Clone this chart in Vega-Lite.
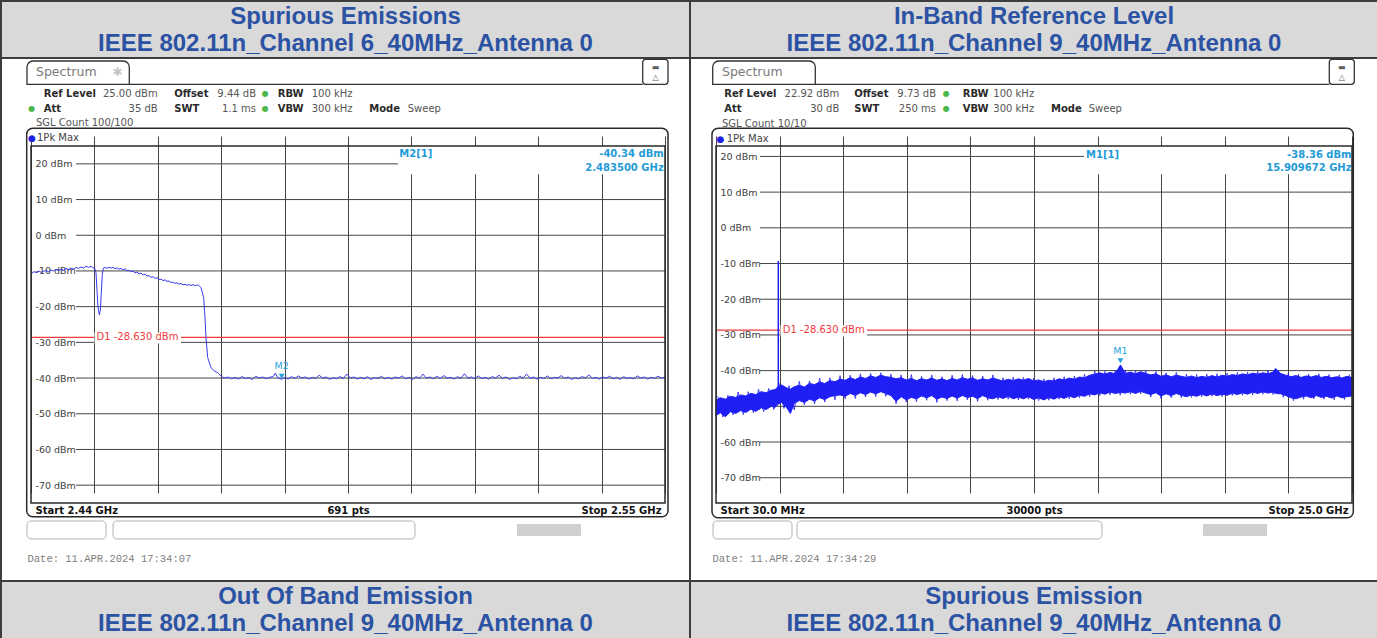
{
"$schema": "https://vega.github.io/schema/vega-lite/v6.json",
"background": "white",
"padding": 0,
"columns": 2,
"spacing": 0,
"bounds": "flush",
"config": {"view": {"stroke": null}, "text": {"font": "DejaVu Sans", "baseline": "alphabetic", "align": "left"}, "axis": {"labelFont": "DejaVu Sans"}},
"concat": [
{"width": 689, "height": 57, "view": {"fill": "#d9d9d9", "stroke": "#3d3d3d", "strokeWidth": 2},
 "data": {"values": [{"t": "Spurious Emissions\nIEEE 802.11n_Channel 6_40MHz_Antenna 0"}]},
 "mark": {"type": "text", "lineBreak": "\n", "font": "Liberation Sans", "fontWeight": "bold", "fontSize": 24, "lineHeight": 27, "dy": -12.5, "color": "#2b52a3", "align": "center", "baseline": "middle"},
 "encoding": {"text": {"field": "t", "type": "nominal"}}},
{"width": 688, "height": 57, "view": {"fill": "#d9d9d9", "stroke": "#3d3d3d", "strokeWidth": 2},
 "data": {"values": [{"t": "In-Band Reference Level\nIEEE 802.11n_Channel 9_40MHz_Antenna 0"}]},
 "mark": {"type": "text", "lineBreak": "\n", "font": "Liberation Sans", "fontWeight": "bold", "fontSize": 24, "lineHeight": 27, "dy": -12.5, "color": "#2b52a3", "align": "center", "baseline": "middle"},
 "encoding": {"text": {"field": "t", "type": "nominal"}}},
{"width": 689, "height": 523, "view": {"fill": "white", "stroke": "#3d3d3d", "strokeWidth": 2},
 "layer": [
  {"data": {"values": [{"lvl": 20}, {"lvl": 10}, {"lvl": 0}, {"lvl": -10}, {"lvl": -20}, {"lvl": -30}, {"lvl": -40}, {"lvl": -50}, {"lvl": -60}, {"lvl": -70}]},
   "mark": {"type": "rule", "color": "#444444", "strokeWidth": 1},
   "encoding": {
    "y": {"field": "lvl", "type": "quantitative", "scale": {"domain": [-75, 25], "range": [445, 88], "nice": false, "zero": false},
          "axis": {"orient": "left", "offset": -30, "values": [20, 10, 0, -10, -20, -30, -40, -50, -60, -70], "labelExpr": "datum.value + ' dBm'", "labelAlign": "left", "labelBaseline": "middle", "labelPadding": -4, "ticks": false, "tickSize": 0, "domain": false, "grid": false, "title": null, "labelFontSize": 9.5, "labelColor": "#404040", "labelOverlap": false}},
    "x": {"datum": 2.447808, "type": "quantitative", "scale": {"domain": [2.44, 2.55], "range": [30, 664], "nice": false, "zero": false},
          "axis": {"orient": "bottom", "offset": -78, "values": [2.44, 2.451, 2.462, 2.473, 2.484, 2.495, 2.506, 2.517, 2.528, 2.539, 2.55], "grid": true, "gridColor": "#444444", "gridWidth": 1, "gridOpacity": 1, "ticks": false, "tickSize": 0, "domain": false,
                   "labelExpr": "abs(datum.value-2.44)<1e-6 ? 'Start 2.44 GHz' : abs(datum.value-2.495)<1e-6 ? '691 pts' : abs(datum.value-2.55)<1e-6 ? 'Stop 2.55 GHz' : ''",
                   "labelFlush": true, "labelFlushOffset": -4, "labelOverlap": false, "labelFontWeight": "bold", "labelFontSize": 10, "labelColor": "#111111", "labelPadding": 2, "labelBaseline": "top",
                   "title": "Date: 11.APR.2024  17:34:07", "titleFont": "Liberation Mono", "titleFontWeight": "normal", "titleFontSize": 10.5, "titleColor": "#808080", "titleAnchor": "start", "titleAlign": "left", "titleBaseline": "middle", "titleX": 26, "titleY": 55}},
    "x2": {"datum": 2.55}}},
  {"data": {"values": [{}]}, "mark": {"type": "rect", "color": "white"},
   "encoding": {"x": {"datum": 2.503675}, "x2": {"datum": 2.55}, "y": {"datum": 25}, "y2": {"datum": 17.07}}},
  {"data": {"values": [{"d1": -28.63}]}, "mark": {"type": "rule", "color": "#f03c3c", "strokeWidth": 1.2},
   "encoding": {"y": {"field": "d1", "type": "quantitative"}, "x": {"datum": 2.44}, "x2": {"datum": 2.55}}},
  {"data": {"values": [{}]}, "mark": {"type": "rect", "color": "white"},
   "encoding": {"x": {"datum": 2.451017}, "x2": {"datum": 2.466025}, "y": {"datum": -27.24}, "y2": {"datum": -30.32}}},
  {"data": {"values": [{}]}, "mark": {"type": "text", "text": "D1  -28.630 dBm", "baseline": "middle", "fontSize": 10, "color": "#f03c3c"},
   "encoding": {"x": {"datum": 2.451364}, "y": {"datum": -28.63}}},
  {"data": {"values": [
    {"f": 2.44000, "v": -10.8}, {"f": 2.44052, "v": -10.2}, {"f": 2.44104, "v": -10.5}, {"f": 2.44139, "v": -10.0}, {"f": 2.44174, "v": -10.4}, {"f": 2.44217, "v": -10.1}, {"f": 2.44260, "v": -9.9}, {"f": 2.44304, "v": -10.2}, {"f": 2.44347, "v": -9.7}, {"f": 2.44391, "v": -10.0},
    {"f": 2.44434, "v": -9.6}, {"f": 2.44478, "v": -9.9}, {"f": 2.44521, "v": -9.5}, {"f": 2.44564, "v": -9.8}, {"f": 2.44607, "v": -9.3}, {"f": 2.44651, "v": -9.6}, {"f": 2.44694, "v": -9.2}, {"f": 2.44738, "v": -9.5}, {"f": 2.44781, "v": -9.0}, {"f": 2.44824, "v": -9.3},
    {"f": 2.44868, "v": -8.9}, {"f": 2.44911, "v": -9.2}, {"f": 2.44954, "v": -8.7}, {"f": 2.44998, "v": -9.0}, {"f": 2.45041, "v": -8.7}, {"f": 2.45076, "v": -9.1}, {"f": 2.45110, "v": -9.4}, {"f": 2.45128, "v": -10.5}, {"f": 2.45145, "v": -15.5}, {"f": 2.45162, "v": -20.0},
    {"f": 2.45185, "v": -22.3}, {"f": 2.45203, "v": -21.0}, {"f": 2.45220, "v": -16.0}, {"f": 2.45237, "v": -11.0}, {"f": 2.45255, "v": -9.2}, {"f": 2.45284, "v": -9.0}, {"f": 2.45319, "v": -9.3}, {"f": 2.45354, "v": -8.9}, {"f": 2.45388, "v": -9.2}, {"f": 2.45423, "v": -9.0},
    {"f": 2.45458, "v": -9.4}, {"f": 2.45492, "v": -9.1}, {"f": 2.45527, "v": -9.5}, {"f": 2.45562, "v": -9.3}, {"f": 2.45597, "v": -9.7}, {"f": 2.45631, "v": -9.4}, {"f": 2.45666, "v": -9.9}, {"f": 2.45700, "v": -9.8}, {"f": 2.45735, "v": -10.2}, {"f": 2.45770, "v": -10.0},
    {"f": 2.45804, "v": -10.5}, {"f": 2.45839, "v": -10.3}, {"f": 2.45874, "v": -10.8}, {"f": 2.45909, "v": -10.6}, {"f": 2.45944, "v": -11.1}, {"f": 2.45978, "v": -10.9}, {"f": 2.46013, "v": -11.4}, {"f": 2.46048, "v": -11.3}, {"f": 2.46082, "v": -11.8}, {"f": 2.46117, "v": -11.6},
    {"f": 2.46152, "v": -12.1}, {"f": 2.46186, "v": -11.9}, {"f": 2.46221, "v": -12.4}, {"f": 2.46256, "v": -12.3}, {"f": 2.46290, "v": -12.7}, {"f": 2.46325, "v": -12.5}, {"f": 2.46360, "v": -12.9}, {"f": 2.46394, "v": -12.8}, {"f": 2.46429, "v": -13.3}, {"f": 2.46464, "v": -13.1},
    {"f": 2.46498, "v": -13.5}, {"f": 2.46533, "v": -13.3}, {"f": 2.46568, "v": -13.7}, {"f": 2.46603, "v": -13.5}, {"f": 2.46637, "v": -13.9}, {"f": 2.46672, "v": -13.7}, {"f": 2.46707, "v": -14.0}, {"f": 2.46741, "v": -13.8}, {"f": 2.46776, "v": -14.1}, {"f": 2.46811, "v": -13.8},
    {"f": 2.46846, "v": -14.2}, {"f": 2.46880, "v": -13.9}, {"f": 2.46915, "v": -14.1}, {"f": 2.46950, "v": -14.7}, {"f": 2.46996, "v": -17.5}, {"f": 2.47019, "v": -23.1}, {"f": 2.47036, "v": -28.7}, {"f": 2.47066, "v": -34.3}, {"f": 2.47123, "v": -37.1}, {"f": 2.47180, "v": -38.0},
    {"f": 2.47239, "v": -38.5}, {"f": 2.47297, "v": -39.4}, {"f": 2.47330, "v": -39.8},
    {"f": 2.4736, "v": -40.0}, {"f": 2.4742, "v": -39.7}, {"f": 2.4748, "v": -40.2}, {"f": 2.4754, "v": -39.8}, {"f": 2.4760, "v": -40.3}, {"f": 2.4766, "v": -39.6}, {"f": 2.4772, "v": -40.1}, {"f": 2.4778, "v": -39.9}, {"f": 2.4784, "v": -40.4}, {"f": 2.4790, "v": -39.5},
    {"f": 2.4796, "v": -40.0}, {"f": 2.4802, "v": -39.7}, {"f": 2.4808, "v": -40.2}, {"f": 2.4814, "v": -39.8}, {"f": 2.4820, "v": -39.6}, {"f": 2.4824, "v": -38.6}, {"f": 2.4828, "v": -39.9}, {"f": 2.4835, "v": -40.34}, {"f": 2.4840, "v": -39.8}, {"f": 2.4846, "v": -40.3},
    {"f": 2.4852, "v": -39.6}, {"f": 2.4858, "v": -40.1}, {"f": 2.4864, "v": -39.4}, {"f": 2.4870, "v": -40.0}, {"f": 2.4876, "v": -39.7}, {"f": 2.4882, "v": -40.3}, {"f": 2.4888, "v": -39.8}, {"f": 2.4894, "v": -40.1}, {"f": 2.4900, "v": -39.2}, {"f": 2.4906, "v": -40.0},
    {"f": 2.4912, "v": -39.7}, {"f": 2.4918, "v": -40.4}, {"f": 2.4924, "v": -39.9}, {"f": 2.4930, "v": -40.2}, {"f": 2.4936, "v": -39.6}, {"f": 2.4942, "v": -40.1}, {"f": 2.4948, "v": -38.9}, {"f": 2.4954, "v": -40.0}, {"f": 2.4960, "v": -39.7}, {"f": 2.4966, "v": -40.3},
    {"f": 2.4972, "v": -39.8}, {"f": 2.4978, "v": -40.2}, {"f": 2.4984, "v": -39.6}, {"f": 2.4990, "v": -40.4}, {"f": 2.4996, "v": -39.9}, {"f": 2.5002, "v": -40.1}, {"f": 2.5008, "v": -39.5}, {"f": 2.5014, "v": -40.2}, {"f": 2.5020, "v": -39.8}, {"f": 2.5026, "v": -40.3},
    {"f": 2.5032, "v": -39.7}, {"f": 2.5038, "v": -40.0}, {"f": 2.5044, "v": -39.4}, {"f": 2.5050, "v": -40.2}, {"f": 2.5056, "v": -39.8}, {"f": 2.5062, "v": -40.4}, {"f": 2.5068, "v": -39.6}, {"f": 2.5074, "v": -40.1}, {"f": 2.5080, "v": -38.9}, {"f": 2.5086, "v": -40.0},
    {"f": 2.5092, "v": -39.7}, {"f": 2.5098, "v": -40.2}, {"f": 2.5104, "v": -39.5}, {"f": 2.5110, "v": -40.1}, {"f": 2.5116, "v": -39.3}, {"f": 2.5122, "v": -40.0}, {"f": 2.5128, "v": -39.8}, {"f": 2.5134, "v": -40.3}, {"f": 2.5140, "v": -39.6}, {"f": 2.5146, "v": -40.1},
    {"f": 2.5152, "v": -38.8}, {"f": 2.5158, "v": -40.0}, {"f": 2.5164, "v": -39.7}, {"f": 2.5170, "v": -40.2}, {"f": 2.5176, "v": -39.4}, {"f": 2.5182, "v": -40.1}, {"f": 2.5188, "v": -39.8}, {"f": 2.5194, "v": -40.3}, {"f": 2.5200, "v": -39.6}, {"f": 2.5206, "v": -40.0},
    {"f": 2.5212, "v": -39.2}, {"f": 2.5218, "v": -40.1}, {"f": 2.5224, "v": -39.7}, {"f": 2.5230, "v": -40.4}, {"f": 2.5236, "v": -39.9}, {"f": 2.5242, "v": -40.2}, {"f": 2.5248, "v": -39.5}, {"f": 2.5254, "v": -40.0}, {"f": 2.5260, "v": -38.9}, {"f": 2.5266, "v": -40.1},
    {"f": 2.5272, "v": -39.7}, {"f": 2.5278, "v": -40.3}, {"f": 2.5284, "v": -39.8}, {"f": 2.5290, "v": -40.1}, {"f": 2.5296, "v": -39.4}, {"f": 2.5302, "v": -40.2}, {"f": 2.5308, "v": -39.8}, {"f": 2.5314, "v": -40.0}, {"f": 2.5320, "v": -39.3}, {"f": 2.5326, "v": -40.1},
    {"f": 2.5332, "v": -39.7}, {"f": 2.5338, "v": -40.4}, {"f": 2.5344, "v": -39.9}, {"f": 2.5350, "v": -40.2}, {"f": 2.5356, "v": -39.6}, {"f": 2.5362, "v": -40.0}, {"f": 2.5368, "v": -39.1}, {"f": 2.5374, "v": -40.1}, {"f": 2.5380, "v": -39.8}, {"f": 2.5386, "v": -40.3},
    {"f": 2.5392, "v": -39.7}, {"f": 2.5398, "v": -40.0}, {"f": 2.5404, "v": -39.5}, {"f": 2.5410, "v": -40.2}, {"f": 2.5416, "v": -39.8}, {"f": 2.5422, "v": -40.4}, {"f": 2.5428, "v": -39.6}, {"f": 2.5434, "v": -40.1}, {"f": 2.5440, "v": -39.9}, {"f": 2.5446, "v": -40.2},
    {"f": 2.5452, "v": -39.4}, {"f": 2.5458, "v": -40.0}, {"f": 2.5464, "v": -39.7}, {"f": 2.5470, "v": -40.3}, {"f": 2.5476, "v": -39.8}, {"f": 2.5482, "v": -40.1}, {"f": 2.5488, "v": -39.5}, {"f": 2.5494, "v": -40.0}, {"f": 2.5500, "v": -39.8}]},
   "mark": {"type": "line", "color": "#3a3af0", "strokeWidth": 1},
   "encoding": {"x": {"field": "f", "type": "quantitative"}, "y": {"field": "v", "type": "quantitative"}}},
  {"data": {"values": [{"mf": 2.4835, "mv": -40.34}]}, "mark": {"type": "point", "shape": "triangle-down", "filled": true, "size": 35, "color": "#25a2dc", "opacity": 1, "yOffset": -3},
   "encoding": {"x": {"field": "mf", "type": "quantitative"}, "y": {"field": "mv", "type": "quantitative"}}},
  {"data": {"values": [{"mf": 2.4835, "mv": -40.34}]}, "mark": {"type": "text", "text": "M2", "align": "center", "baseline": "middle", "dy": -13, "fontSize": 9.5, "color": "#25a2dc"},
   "encoding": {"x": {"field": "mf", "type": "quantitative"}, "y": {"field": "mv", "type": "quantitative"}}},
  {"data": {"values": [{}]}, "mark": {"type": "text", "text": "M2[1]", "fontSize": 10, "fontWeight": "bold", "color": "#1f9bd7"},
   "encoding": {"x": {"datum": 2.503900}, "y": {"datum": 21.78}}},
  {"data": {"values": [{}]}, "mark": {"type": "text", "text": "-40.34 dBm\n2.483500 GHz", "lineBreak": "\n", "lineHeight": 13.5, "align": "right", "fontSize": 10, "fontWeight": "bold", "color": "#1f9bd7"},
   "encoding": {"x": {"datum": 2.549775}, "y": {"datum": 21.78}}},
  {"data": {"values": [{}]}, "mark": {"type": "rect", "filled": false, "color": "#2a2a2a", "strokeWidth": 1.5},
   "encoding": {"x": {"datum": 2.44}, "x2": {"datum": 2.55}, "y": {"datum": 25}, "y2": {"datum": -75}}},
  {"data": {"values": [{}]}, "mark": {"type": "rect", "filled": false, "color": "#2a2a2a", "strokeWidth": 1.5, "cornerRadius": 6},
   "encoding": {"x": {"datum": 2.439254}, "x2": {"datum": 2.55052}, "y": {"datum": 29.958}, "y2": {"datum": -78.84}}},
  {"data": {"values": [{}]}, "mark": {"type": "rect", "filled": false, "color": "#333333", "strokeWidth": 1.3, "cornerRadiusTopLeft": 6, "cornerRadiusTopRight": 6},
   "encoding": {"x": {"datum": 2.439306}, "x2": {"datum": 2.457055}, "y": {"datum": 48.81}, "y2": {"datum": 42.28}}},
  {"data": {"values": [{}]}, "mark": {"type": "rule", "color": "#333333", "strokeWidth": 1.3},
   "encoding": {"x": {"datum": 2.457055}, "x2": {"datum": 2.54613}, "y": {"datum": 42.28}}},
  {"data": {"values": [{}]}, "mark": {"type": "rect", "filled": false, "color": "#333333", "strokeWidth": 1.3, "cornerRadius": 3},
   "encoding": {"x": {"datum": 2.54613}, "x2": {"datum": 2.55052}, "y": {"datum": 49.29}, "y2": {"datum": 42.28}}},
  {"data": {"values": [{}]}, "mark": {"type": "text", "text": "▬\n△", "lineBreak": "\n", "lineHeight": 9.5, "align": "center", "fontSize": 8, "color": "#606060"},
   "encoding": {"x": {"datum": 2.548353}, "y": {"datum": 46.15}}},
  {"data": {"values": [{}]}, "mark": {"type": "text", "text": "Spectrum", "fontSize": 12.5, "color": "#7a7a7a"},
   "encoding": {"x": {"datum": 2.440868}, "y": {"datum": 44.47}}},
  {"data": {"values": [{}]}, "mark": {"type": "text", "text": "✱", "align": "center", "fontSize": 12, "color": "#c4c4c4"},
   "encoding": {"x": {"datum": 2.455}, "y": {"datum": 44.6}}},
  {"data": {"values": [{}]}, "mark": {"type": "text", "text": "Ref Level\nAtt", "lineBreak": "\n", "lineHeight": 15, "fontSize": 10, "fontWeight": "bold", "color": "#2a2a2a"},
   "encoding": {"x": {"datum": 2.442203}, "y": {"datum": 38.81}}},
  {"data": {"values": [{}]}, "mark": {"type": "text", "text": "25.00 dBm\n35 dB", "lineBreak": "\n", "lineHeight": 15, "align": "right", "fontSize": 10, "color": "#555555"},
   "encoding": {"x": {"datum": 2.461982}, "y": {"datum": 38.81}}},
  {"data": {"values": [{}]}, "mark": {"type": "text", "text": "Offset\nSWT", "lineBreak": "\n", "lineHeight": 15, "fontSize": 10, "fontWeight": "bold", "color": "#2a2a2a"},
   "encoding": {"x": {"datum": 2.464863}, "y": {"datum": 38.81}}},
  {"data": {"values": [{}]}, "mark": {"type": "text", "text": "9.44 dB\n1.1 ms", "lineBreak": "\n", "lineHeight": 15, "align": "right", "fontSize": 10, "color": "#555555"},
   "encoding": {"x": {"datum": 2.479038}, "y": {"datum": 38.81}}},
  {"data": {"values": [{}]}, "mark": {"type": "text", "text": "●\n●", "lineBreak": "\n", "lineHeight": 15, "align": "center", "fontSize": 8, "color": "#4cb84c"},
   "encoding": {"x": {"datum": 2.480651}, "y": {"datum": 38.9}}},
  {"data": {"values": [{}]}, "mark": {"type": "text", "text": "RBW\nVBW", "lineBreak": "\n", "lineHeight": 15, "fontSize": 10, "fontWeight": "bold", "color": "#2a2a2a"},
   "encoding": {"x": {"datum": 2.482802}, "y": {"datum": 38.81}}},
  {"data": {"values": [{}]}, "mark": {"type": "text", "text": "100 kHz\n300 kHz", "lineBreak": "\n", "lineHeight": 15, "fontSize": 10, "color": "#555555"},
   "encoding": {"x": {"datum": 2.488701}, "y": {"datum": 38.81}}},
  {"data": {"values": [{}]}, "mark": {"type": "text", "text": "Mode", "fontSize": 10, "fontWeight": "bold", "color": "#2a2a2a"},
   "encoding": {"x": {"datum": 2.498695}, "y": {"datum": 34.61}}},
  {"data": {"values": [{}]}, "mark": {"type": "text", "text": "Sweep", "fontSize": 10, "color": "#555555"},
   "encoding": {"x": {"datum": 2.505358}, "y": {"datum": 34.61}}},
  {"data": {"values": [{}]}, "mark": {"type": "text", "text": "●", "align": "center", "fontSize": 8, "color": "#4cb84c"},
   "encoding": {"x": {"datum": 2.440121}, "y": {"datum": 34.7}}},
  {"data": {"values": [{}]}, "mark": {"type": "text", "text": "SGL Count 100/100", "fontSize": 10, "color": "#555555"},
   "encoding": {"x": {"datum": 2.440868}, "y": {"datum": 30.6}}},
  {"data": {"values": [{}]}, "mark": {"type": "text", "text": "●", "align": "center", "fontSize": 9, "color": "#2020e0"},
   "encoding": {"x": {"datum": 2.440174}, "y": {"datum": 26.3}}},
  {"data": {"values": [{}]}, "mark": {"type": "text", "text": "1Pk Max", "fontSize": 10, "color": "#444444"},
   "encoding": {"x": {"datum": 2.441041}, "y": {"datum": 26.4}}},
  {"data": {"values": [{}]}, "mark": {"type": "rect", "filled": false, "color": "#b0b0b0", "strokeWidth": 1, "cornerRadius": 4},
   "encoding": {"x": {"datum": 2.439306}, "x2": {"datum": 2.453013}, "y": {"datum": -80.04}, "y2": {"datum": -85.08}}},
  {"data": {"values": [{}]}, "mark": {"type": "rect", "filled": false, "color": "#b0b0b0", "strokeWidth": 1, "cornerRadius": 4},
   "encoding": {"x": {"datum": 2.454227}, "x2": {"datum": 2.506624}, "y": {"datum": -80.04}, "y2": {"datum": -85.08}}},
  {"data": {"values": [{}]}, "mark": {"type": "rect", "color": "#cfcfcf"},
   "encoding": {"x": {"datum": 2.524322}, "x2": {"datum": 2.535425}, "y": {"datum": -80.88}, "y2": {"datum": -84.24}}}
 ]},
{"width": 688, "height": 523, "view": {"fill": "white", "stroke": "#3d3d3d", "strokeWidth": 2},
 "layer": [
  {"data": {"values": [{"lvl": 20}, {"lvl": 10}, {"lvl": 0}, {"lvl": -10}, {"lvl": -20}, {"lvl": -30}, {"lvl": -40}, {"lvl": -50}, {"lvl": -60}, {"lvl": -70}]},
   "mark": {"type": "rule", "color": "#444444", "strokeWidth": 1},
   "encoding": {
    "y": {"field": "lvl", "type": "quantitative", "scale": {"domain": [-77.08, 22.92], "range": [445, 88], "nice": false, "zero": false},
          "axis": {"orient": "left", "offset": -26, "values": [20, 10, 0, -10, -20, -30, -40, -50, -60, -70], "labelExpr": "datum.value + ' dBm'", "labelAlign": "left", "labelBaseline": "middle", "labelPadding": -4, "ticks": false, "tickSize": 0, "domain": false, "grid": false, "title": null, "labelFontSize": 9.5, "labelColor": "#404040", "labelOverlap": false}},
    "x": {"datum": 1.7574, "type": "quantitative", "scale": {"domain": [0.03, 25.0], "range": [26, 662], "nice": false, "zero": false},
          "axis": {"orient": "bottom", "offset": -78, "values": [0.03, 2.527, 5.024, 7.521, 10.018, 12.515, 15.012, 17.509, 20.006, 22.503, 25.0], "grid": true, "gridColor": "#444444", "gridWidth": 1, "gridOpacity": 1, "ticks": false, "tickSize": 0, "domain": false,
                   "labelExpr": "abs(datum.value-0.03)<1e-6 ? 'Start 30.0 MHz' : abs(datum.value-12.515)<1e-6 ? '30000 pts' : abs(datum.value-25)<1e-6 ? 'Stop 25.0 GHz' : ''",
                   "labelFlush": true, "labelFlushOffset": -4, "labelOverlap": false, "labelFontWeight": "bold", "labelFontSize": 10, "labelColor": "#111111", "labelPadding": 2, "labelBaseline": "top",
                   "title": "Date: 11.APR.2024  17:34:29", "titleFont": "Liberation Mono", "titleFontWeight": "normal", "titleFontSize": 10.5, "titleColor": "#808080", "titleAnchor": "start", "titleAlign": "left", "titleBaseline": "middle", "titleX": 22, "titleY": 55}},
    "x2": {"datum": 25.0}}},
  {"data": {"values": [{}]}, "mark": {"type": "rect", "color": "white"},
   "encoding": {"x": {"datum": 14.4781}, "x2": {"datum": 25.0}, "y": {"datum": 22.92}, "y2": {"datum": 14.99}}},
  {"data": {"values": [{"d1": -28.63}]}, "mark": {"type": "rule", "color": "#f03c3c", "strokeWidth": 1.2},
   "encoding": {"y": {"field": "d1", "type": "quantitative"}, "x": {"datum": 0.03}, "x2": {"datum": 25.0}}},
  {"data": {"values": [{}]}, "mark": {"type": "rect", "color": "white"},
   "encoding": {"x": {"datum": 2.5623}, "x2": {"datum": 5.9584}, "y": {"datum": -27.3}, "y2": {"datum": -30.44}}},
  {"data": {"values": [{}]}, "mark": {"type": "text", "text": "D1  -28.630 dBm", "baseline": "middle", "fontSize": 10, "color": "#f03c3c"},
   "encoding": {"x": {"datum": 2.6487}, "y": {"datum": -28.63}}},
  {"data": {"values": [
    {"f": 0.03, "hi": -48.3, "lo": -52.6}, {"f": 0.2, "hi": -47.6, "lo": -51.8}, {"f": 0.4, "hi": -48.0, "lo": -52.9}, {"f": 0.6, "hi": -47.2, "lo": -51.5}, {"f": 0.8, "hi": -47.5, "lo": -52.0},
    {"f": 1.0, "hi": -46.8, "lo": -51.2}, {"f": 1.2, "hi": -47.1, "lo": -51.7}, {"f": 1.4, "hi": -46.4, "lo": -50.8}, {"f": 1.6, "hi": -46.7, "lo": -51.4}, {"f": 1.8, "hi": -45.9, "lo": -50.4},
    {"f": 2.0, "hi": -46.2, "lo": -50.9}, {"f": 2.2, "hi": -45.5, "lo": -50.0}, {"f": 2.35, "hi": -45.3, "lo": -50.3}, {"f": 2.45, "hi": -44.6, "lo": -49.5}, {"f": 2.6, "hi": -44.0, "lo": -48.9},
    {"f": 2.8, "hi": -44.8, "lo": -50.3}, {"f": 2.95, "hi": -45.2, "lo": -52.0}, {"f": 3.1, "hi": -44.5, "lo": -49.2}, {"f": 3.3, "hi": -44.1, "lo": -48.4}, {"f": 3.5, "hi": -44.6, "lo": -48.9},
    {"f": 3.7, "hi": -43.6, "lo": -48.0}, {"f": 3.9, "hi": -43.9, "lo": -48.5}, {"f": 4.1, "hi": -43.2, "lo": -47.6}, {"f": 4.3, "hi": -43.6, "lo": -48.1}, {"f": 4.5, "hi": -42.8, "lo": -47.3},
    {"f": 4.7, "hi": -43.1, "lo": -47.0}, {"f": 4.9, "hi": -42.4, "lo": -46.8}, {"f": 5.1, "hi": -42.7, "lo": -47.2}, {"f": 5.3, "hi": -42.0, "lo": -46.4}, {"f": 5.5, "hi": -42.5, "lo": -46.9},
    {"f": 5.7, "hi": -41.8, "lo": -46.2}, {"f": 5.9, "hi": -42.2, "lo": -46.7}, {"f": 6.1, "hi": -41.5, "lo": -46.0}, {"f": 6.3, "hi": -41.9, "lo": -46.5}, {"f": 6.5, "hi": -41.3, "lo": -45.9},
    {"f": 6.7, "hi": -41.7, "lo": -46.4}, {"f": 6.9, "hi": -41.9, "lo": -47.0}, {"f": 7.1, "hi": -42.3, "lo": -48.6}, {"f": 7.3, "hi": -42.0, "lo": -47.3}, {"f": 7.5, "hi": -42.6, "lo": -48.2},
    {"f": 7.7, "hi": -42.2, "lo": -47.5}, {"f": 7.9, "hi": -42.8, "lo": -47.9}, {"f": 8.1, "hi": -42.3, "lo": -47.1}, {"f": 8.3, "hi": -42.6, "lo": -47.6}, {"f": 8.5, "hi": -42.1, "lo": -47.0},
    {"f": 8.7, "hi": -42.7, "lo": -48.0}, {"f": 8.9, "hi": -42.3, "lo": -47.4}, {"f": 9.1, "hi": -42.8, "lo": -47.8}, {"f": 9.3, "hi": -42.2, "lo": -47.1}, {"f": 9.5, "hi": -42.6, "lo": -47.7},
    {"f": 9.7, "hi": -42.0, "lo": -47.0}, {"f": 9.9, "hi": -42.4, "lo": -47.5}, {"f": 10.1, "hi": -42.1, "lo": -47.2}, {"f": 10.3, "hi": -42.7, "lo": -47.8}, {"f": 10.5, "hi": -42.3, "lo": -47.0},
    {"f": 10.7, "hi": -42.6, "lo": -47.6}, {"f": 10.9, "hi": -42.1, "lo": -47.9}, {"f": 11.1, "hi": -42.5, "lo": -47.3}, {"f": 11.3, "hi": -42.9, "lo": -47.8}, {"f": 11.5, "hi": -42.4, "lo": -47.2},
    {"f": 11.7, "hi": -42.8, "lo": -47.9}, {"f": 11.9, "hi": -42.3, "lo": -47.4}, {"f": 12.1, "hi": -42.7, "lo": -47.9}, {"f": 12.3, "hi": -42.2, "lo": -47.3}, {"f": 12.5, "hi": -42.9, "lo": -48.1},
    {"f": 12.7, "hi": -42.6, "lo": -47.6}, {"f": 12.9, "hi": -43.1, "lo": -48.2}, {"f": 13.1, "hi": -42.7, "lo": -47.5}, {"f": 13.3, "hi": -42.9, "lo": -48.0}, {"f": 13.5, "hi": -42.3, "lo": -47.3},
    {"f": 13.7, "hi": -42.6, "lo": -47.8}, {"f": 13.9, "hi": -42.1, "lo": -47.1}, {"f": 14.1, "hi": -42.4, "lo": -47.6}, {"f": 14.3, "hi": -41.8, "lo": -46.9}, {"f": 14.5, "hi": -42.0, "lo": -47.2},
    {"f": 14.7, "hi": -41.3, "lo": -46.5}, {"f": 14.9, "hi": -41.0, "lo": -46.8}, {"f": 15.1, "hi": -40.6, "lo": -46.2}, {"f": 15.3, "hi": -41.0, "lo": -46.6}, {"f": 15.5, "hi": -40.5, "lo": -46.0},
    {"f": 15.7, "hi": -40.9, "lo": -46.4}, {"f": 15.91, "hi": -38.4, "lo": -46.1}, {"f": 16.1, "hi": -40.8, "lo": -46.3}, {"f": 16.3, "hi": -40.4, "lo": -45.9}, {"f": 16.5, "hi": -40.9, "lo": -46.4},
    {"f": 16.7, "hi": -40.3, "lo": -45.8}, {"f": 16.9, "hi": -40.8, "lo": -46.3}, {"f": 17.1, "hi": -41.2, "lo": -46.7}, {"f": 17.3, "hi": -40.9, "lo": -46.2}, {"f": 17.5, "hi": -41.6, "lo": -47.1},
    {"f": 17.7, "hi": -41.2, "lo": -46.5}, {"f": 17.9, "hi": -41.7, "lo": -47.0}, {"f": 18.1, "hi": -41.3, "lo": -46.4}, {"f": 18.3, "hi": -41.6, "lo": -46.9}, {"f": 18.5, "hi": -41.9, "lo": -47.3},
    {"f": 18.7, "hi": -41.5, "lo": -46.8}, {"f": 18.9, "hi": -42.0, "lo": -47.2}, {"f": 19.1, "hi": -41.6, "lo": -46.6}, {"f": 19.3, "hi": -41.9, "lo": -47.1}, {"f": 19.5, "hi": -41.4, "lo": -46.5},
    {"f": 19.7, "hi": -41.8, "lo": -47.0}, {"f": 19.9, "hi": -41.3, "lo": -46.6}, {"f": 20.1, "hi": -41.6, "lo": -46.9}, {"f": 20.3, "hi": -41.1, "lo": -46.3}, {"f": 20.5, "hi": -41.4, "lo": -46.7},
    {"f": 20.7, "hi": -40.9, "lo": -46.2}, {"f": 20.9, "hi": -41.2, "lo": -46.6}, {"f": 21.1, "hi": -40.7, "lo": -46.0}, {"f": 21.3, "hi": -41.0, "lo": -46.4}, {"f": 21.5, "hi": -40.6, "lo": -45.9},
    {"f": 21.7, "hi": -40.9, "lo": -46.3}, {"f": 21.9, "hi": -40.4, "lo": -46.0}, {"f": 22.0, "hi": -39.4, "lo": -46.4}, {"f": 22.2, "hi": -40.8, "lo": -46.5}, {"f": 22.4, "hi": -41.3, "lo": -47.0},
    {"f": 22.6, "hi": -41.7, "lo": -47.6}, {"f": 22.8, "hi": -41.4, "lo": -47.9}, {"f": 23.0, "hi": -41.9, "lo": -47.4}, {"f": 23.2, "hi": -41.5, "lo": -47.1}, {"f": 23.4, "hi": -41.8, "lo": -47.6},
    {"f": 23.6, "hi": -41.4, "lo": -47.0}, {"f": 23.8, "hi": -41.9, "lo": -47.5}, {"f": 24.0, "hi": -41.6, "lo": -47.2}, {"f": 24.2, "hi": -42.0, "lo": -47.7}, {"f": 24.4, "hi": -41.7, "lo": -47.1},
    {"f": 24.6, "hi": -42.1, "lo": -47.6}, {"f": 24.8, "hi": -41.6, "lo": -47.3}, {"f": 25.0, "hi": -41.9, "lo": -47.1}]},
   "mark": {"type": "area", "color": "#1f1ff5", "stroke": "#1f1ff5", "strokeWidth": 1, "opacity": 1},
   "encoding": {"x": {"field": "f", "type": "quantitative"}, "y": {"field": "hi", "type": "quantitative"}, "y2": {"field": "lo"}}},
  {"data": {"values": [
    {"f": 0.1, "v": -47.2}, {"f": 0.3, "v": -53.0}, {"f": 0.5, "v": -46.9}, {"f": 0.7, "v": -52.4}, {"f": 0.9, "v": -46.0}, {"f": 1.1, "v": -52.3}, {"f": 1.3, "v": -45.9}, {"f": 1.5, "v": -51.8}, {"f": 1.7, "v": -45.2}, {"f": 1.9, "v": -51.5},
    {"f": 2.1, "v": -45.0}, {"f": 2.3, "v": -50.9}, {"f": 2.5, "v": -43.5}, {"f": 2.7, "v": -50.6}, {"f": 2.9, "v": -44.2}, {"f": 3.1, "v": -51.0}, {"f": 3.3, "v": -43.0}, {"f": 3.5, "v": -49.6}, {"f": 3.7, "v": -42.9}, {"f": 3.9, "v": -49.3},
    {"f": 4.1, "v": -42.1}, {"f": 4.3, "v": -48.8}, {"f": 4.5, "v": -42.0}, {"f": 4.7, "v": -48.2}, {"f": 4.9, "v": -41.4}, {"f": 5.1, "v": -47.9}, {"f": 5.3, "v": -41.3}, {"f": 5.5, "v": -47.8}, {"f": 5.7, "v": -40.9}, {"f": 5.9, "v": -47.4},
    {"f": 6.1, "v": -40.8}, {"f": 6.3, "v": -47.3}, {"f": 6.5, "v": -40.6}, {"f": 6.7, "v": -47.2}, {"f": 6.9, "v": -41.0}, {"f": 7.1, "v": -49.3}, {"f": 7.3, "v": -41.2}, {"f": 7.5, "v": -48.8}, {"f": 7.7, "v": -41.1}, {"f": 7.9, "v": -48.7},
    {"f": 8.1, "v": -41.6}, {"f": 8.3, "v": -48.3}, {"f": 8.5, "v": -41.2}, {"f": 8.7, "v": -48.9}, {"f": 8.9, "v": -41.7}, {"f": 9.1, "v": -48.4}, {"f": 9.3, "v": -41.3}, {"f": 9.5, "v": -48.5}, {"f": 9.7, "v": -41.1}, {"f": 9.9, "v": -48.2},
    {"f": 10.1, "v": -41.4}, {"f": 10.3, "v": -48.6}, {"f": 10.5, "v": -41.5}, {"f": 10.7, "v": -48.3}, {"f": 10.9, "v": -41.2}, {"f": 11.1, "v": -48.1}, {"f": 11.3, "v": -42.0}, {"f": 11.5, "v": -48.0}, {"f": 11.7, "v": -41.8}, {"f": 11.9, "v": -48.2},
    {"f": 12.1, "v": -41.9}, {"f": 12.3, "v": -48.0}, {"f": 12.5, "v": -42.1}, {"f": 12.7, "v": -48.4}, {"f": 12.9, "v": -42.3}, {"f": 13.1, "v": -48.3}, {"f": 13.3, "v": -42.0}, {"f": 13.5, "v": -48.0}, {"f": 13.7, "v": -41.7}, {"f": 13.9, "v": -47.9},
    {"f": 14.1, "v": -41.5}, {"f": 14.3, "v": -47.6}, {"f": 14.5, "v": -41.0}, {"f": 14.7, "v": -47.3}, {"f": 14.9, "v": -40.1}, {"f": 15.1, "v": -47.0}, {"f": 15.3, "v": -40.2}, {"f": 15.5, "v": -46.8}, {"f": 15.7, "v": -39.9}, {"f": 15.9, "v": -46.9},
    {"f": 16.1, "v": -39.8}, {"f": 16.3, "v": -46.6}, {"f": 16.5, "v": -40.0}, {"f": 16.7, "v": -46.5}, {"f": 16.9, "v": -39.9}, {"f": 17.1, "v": -47.4}, {"f": 17.3, "v": -40.2}, {"f": 17.5, "v": -47.8}, {"f": 17.7, "v": -40.6}, {"f": 17.9, "v": -47.6},
    {"f": 18.1, "v": -40.5}, {"f": 18.3, "v": -47.6}, {"f": 18.5, "v": -41.0}, {"f": 18.7, "v": -47.5}, {"f": 18.9, "v": -41.1}, {"f": 19.1, "v": -47.3}, {"f": 19.3, "v": -41.0}, {"f": 19.5, "v": -47.2}, {"f": 19.7, "v": -40.9}, {"f": 19.9, "v": -47.3},
    {"f": 20.1, "v": -40.7}, {"f": 20.3, "v": -47.0}, {"f": 20.5, "v": -40.5}, {"f": 20.7, "v": -46.9}, {"f": 20.9, "v": -40.4}, {"f": 21.1, "v": -46.8}, {"f": 21.3, "v": -40.2}, {"f": 21.5, "v": -46.6}, {"f": 21.7, "v": -39.9}, {"f": 21.9, "v": -46.7},
    {"f": 22.1, "v": -40.0}, {"f": 22.3, "v": -47.5}, {"f": 22.5, "v": -40.7}, {"f": 22.7, "v": -48.4}, {"f": 22.9, "v": -41.0}, {"f": 23.1, "v": -48.0}, {"f": 23.3, "v": -41.0}, {"f": 23.5, "v": -47.9}, {"f": 23.7, "v": -40.9}, {"f": 23.9, "v": -48.0},
    {"f": 24.1, "v": -41.1}, {"f": 24.3, "v": -48.2}, {"f": 24.5, "v": -41.2}, {"f": 24.7, "v": -48.1}, {"f": 24.9, "v": -41.0}]},
   "mark": {"type": "line", "color": "#1f1ff5", "strokeWidth": 0.8},
   "encoding": {"x": {"field": "f", "type": "quantitative"}, "y": {"field": "v", "type": "quantitative"}}},
  {"data": {"values": [{"f": 2.476, "top": -9.29, "bot": -46.0}]}, "mark": {"type": "rule", "color": "#1f1ff5", "strokeWidth": 1.5},
   "encoding": {"x": {"field": "f", "type": "quantitative"}, "y": {"field": "top", "type": "quantitative"}, "y2": {"field": "bot"}}},
  {"data": {"values": [{"mf": 15.909672, "mv": -38.36}]}, "mark": {"type": "point", "shape": "triangle-down", "filled": true, "size": 35, "color": "#25a2dc", "opacity": 1, "yOffset": -4},
   "encoding": {"x": {"field": "mf", "type": "quantitative"}, "y": {"field": "mv", "type": "quantitative"}}},
  {"data": {"values": [{"mf": 15.909672, "mv": -38.36}]}, "mark": {"type": "text", "text": "M1", "align": "center", "baseline": "middle", "dy": -14, "fontSize": 9.5, "color": "#25a2dc"},
   "encoding": {"x": {"field": "mf", "type": "quantitative"}, "y": {"field": "mv", "type": "quantitative"}}},
  {"data": {"values": [{}]}, "mark": {"type": "text", "text": "M1[1]", "fontSize": 10, "fontWeight": "bold", "color": "#1f9bd7"},
   "encoding": {"x": {"datum": 14.5566}, "y": {"datum": 19.56}}},
  {"data": {"values": [{}]}, "mark": {"type": "text", "text": "-38.36 dBm\n15.909672 GHz", "lineBreak": "\n", "lineHeight": 13.5, "align": "right", "fontSize": 10, "fontWeight": "bold", "color": "#1f9bd7"},
   "encoding": {"x": {"datum": 24.9821}, "y": {"datum": 19.56}}},
  {"data": {"values": [{}]}, "mark": {"type": "rect", "filled": false, "color": "#2a2a2a", "strokeWidth": 1.5},
   "encoding": {"x": {"datum": 0.03}, "x2": {"datum": 25.0}, "y": {"datum": 22.92}, "y2": {"datum": -77.08}}},
  {"data": {"values": [{}]}, "mark": {"type": "rect", "filled": false, "color": "#2a2a2a", "strokeWidth": 1.5, "cornerRadius": 6},
   "encoding": {"x": {"datum": -0.127}, "x2": {"datum": 25.0512}, "y": {"datum": 27.878}, "y2": {"datum": -81.2}}},
  {"data": {"values": [{}]}, "mark": {"type": "rect", "filled": false, "color": "#333333", "strokeWidth": 1.3, "cornerRadiusTopLeft": 6, "cornerRadiusTopRight": 6},
   "encoding": {"x": {"datum": -0.0996}, "x2": {"datum": 3.9286}, "y": {"datum": 46.73}, "y2": {"datum": 40.2}}},
  {"data": {"values": [{}]}, "mark": {"type": "rule", "color": "#333333", "strokeWidth": 1.3},
   "encoding": {"x": {"datum": 3.9286}, "x2": {"datum": 24.1089}, "y": {"datum": 40.2}}},
  {"data": {"values": [{}]}, "mark": {"type": "rect", "filled": false, "color": "#333333", "strokeWidth": 1.3, "cornerRadius": 3},
   "encoding": {"x": {"datum": 24.1089}, "x2": {"datum": 25.0904}, "y": {"datum": 47.21}, "y2": {"datum": 40.2}}},
  {"data": {"values": [{}]}, "mark": {"type": "text", "text": "▬\n△", "lineBreak": "\n", "lineHeight": 9.5, "align": "center", "fontSize": 8, "color": "#606060"},
   "encoding": {"x": {"datum": 24.6009}, "y": {"datum": 44.07}}},
  {"data": {"values": [{}]}, "mark": {"type": "text", "text": "Spectrum", "fontSize": 12.5, "color": "#7a7a7a"},
   "encoding": {"x": {"datum": 0.2656}, "y": {"datum": 42.39}}},
  {"data": {"values": [{}]}, "mark": {"type": "text", "text": "Ref Level\nAtt", "lineBreak": "\n", "lineHeight": 15, "fontSize": 10, "fontWeight": "bold", "color": "#2a2a2a"},
   "encoding": {"x": {"datum": 0.3559}, "y": {"datum": 36.73}}},
  {"data": {"values": [{}]}, "mark": {"type": "text", "text": "22.92 dBm\n30 dB", "lineBreak": "\n", "lineHeight": 15, "align": "right", "fontSize": 10, "color": "#555555"},
   "encoding": {"x": {"datum": 4.871}, "y": {"datum": 36.73}}},
  {"data": {"values": [{}]}, "mark": {"type": "text", "text": "Offset\nSWT", "lineBreak": "\n", "lineHeight": 15, "fontSize": 10, "fontWeight": "bold", "color": "#2a2a2a"},
   "encoding": {"x": {"datum": 5.4598}, "y": {"datum": 36.73}}},
  {"data": {"values": [{}]}, "mark": {"type": "text", "text": "9.73 dB\n250 ms", "lineBreak": "\n", "lineHeight": 15, "align": "right", "fontSize": 10, "color": "#555555"},
   "encoding": {"x": {"datum": 8.6674}, "y": {"datum": 36.73}}},
  {"data": {"values": [{}]}, "mark": {"type": "text", "text": "●\n●", "lineBreak": "\n", "lineHeight": 15, "align": "center", "fontSize": 8, "color": "#4cb84c"},
   "encoding": {"x": {"datum": 9.0719}, "y": {"datum": 36.8}}},
  {"data": {"values": [{}]}, "mark": {"type": "text", "text": "RBW\nVBW", "lineBreak": "\n", "lineHeight": 15, "fontSize": 10, "fontWeight": "bold", "color": "#2a2a2a"},
   "encoding": {"x": {"datum": 9.7158}, "y": {"datum": 36.73}}},
  {"data": {"values": [{}]}, "mark": {"type": "text", "text": "100 kHz\n300 kHz", "lineBreak": "\n", "lineHeight": 15, "fontSize": 10, "color": "#555555"},
   "encoding": {"x": {"datum": 10.9171}, "y": {"datum": 36.73}}},
  {"data": {"values": [{}]}, "mark": {"type": "text", "text": "Mode", "fontSize": 10, "fontWeight": "bold", "color": "#2a2a2a"},
   "encoding": {"x": {"datum": 13.1824}, "y": {"datum": 32.53}}},
  {"data": {"values": [{}]}, "mark": {"type": "text", "text": "Sweep", "fontSize": 10, "color": "#555555"},
   "encoding": {"x": {"datum": 14.663}, "y": {"datum": 32.53}}},
  {"data": {"values": [{}]}, "mark": {"type": "text", "text": "SGL Count 10/10", "fontSize": 10, "color": "#555555"},
   "encoding": {"x": {"datum": 0.2656}, "y": {"datum": 28.33}}},
  {"data": {"values": [{}]}, "mark": {"type": "text", "text": "●", "align": "center", "fontSize": 9, "color": "#2020e0"},
   "encoding": {"x": {"datum": 0.1988}, "y": {"datum": 24.0}}},
  {"data": {"values": [{}]}, "mark": {"type": "text", "text": "1Pk Max", "fontSize": 10, "color": "#444444"},
   "encoding": {"x": {"datum": 0.4501}, "y": {"datum": 24.12}}},
  {"data": {"values": [{}]}, "mark": {"type": "rect", "filled": false, "color": "#b0b0b0", "strokeWidth": 1, "cornerRadius": 4},
   "encoding": {"x": {"datum": -0.0878}, "x2": {"datum": 3.0139}, "y": {"datum": -82.12}, "y2": {"datum": -87.16}}},
  {"data": {"values": [{}]}, "mark": {"type": "rect", "filled": false, "color": "#b0b0b0", "strokeWidth": 1, "cornerRadius": 4},
   "encoding": {"x": {"datum": 3.2101}, "x2": {"datum": 15.1846}, "y": {"datum": -82.12}, "y2": {"datum": -87.16}}},
  {"data": {"values": [{}]}, "mark": {"type": "rect", "color": "#cfcfcf"},
   "encoding": {"x": {"datum": 19.1502}, "x2": {"datum": 21.6629}, "y": {"datum": -82.96}, "y2": {"datum": -86.32}}}
 ]},
{"width": 689, "height": 58, "view": {"fill": "#d9d9d9", "stroke": "#3d3d3d", "strokeWidth": 2},
 "data": {"values": [{"t": "Out Of Band Emission\nIEEE 802.11n_Channel 9_40MHz_Antenna 0"}]},
 "mark": {"type": "text", "lineBreak": "\n", "font": "Liberation Sans", "fontWeight": "bold", "fontSize": 24, "lineHeight": 27, "dy": -13, "color": "#2b52a3", "align": "center", "baseline": "middle"},
 "encoding": {"text": {"field": "t", "type": "nominal"}}},
{"width": 688, "height": 58, "view": {"fill": "#d9d9d9", "stroke": "#3d3d3d", "strokeWidth": 2},
 "data": {"values": [{"t": "Spurious Emission\nIEEE 802.11n_Channel 9_40MHz_Antenna 0"}]},
 "mark": {"type": "text", "lineBreak": "\n", "font": "Liberation Sans", "fontWeight": "bold", "fontSize": 24, "lineHeight": 27, "dy": -13, "color": "#2b52a3", "align": "center", "baseline": "middle"},
 "encoding": {"text": {"field": "t", "type": "nominal"}}}
]
}
